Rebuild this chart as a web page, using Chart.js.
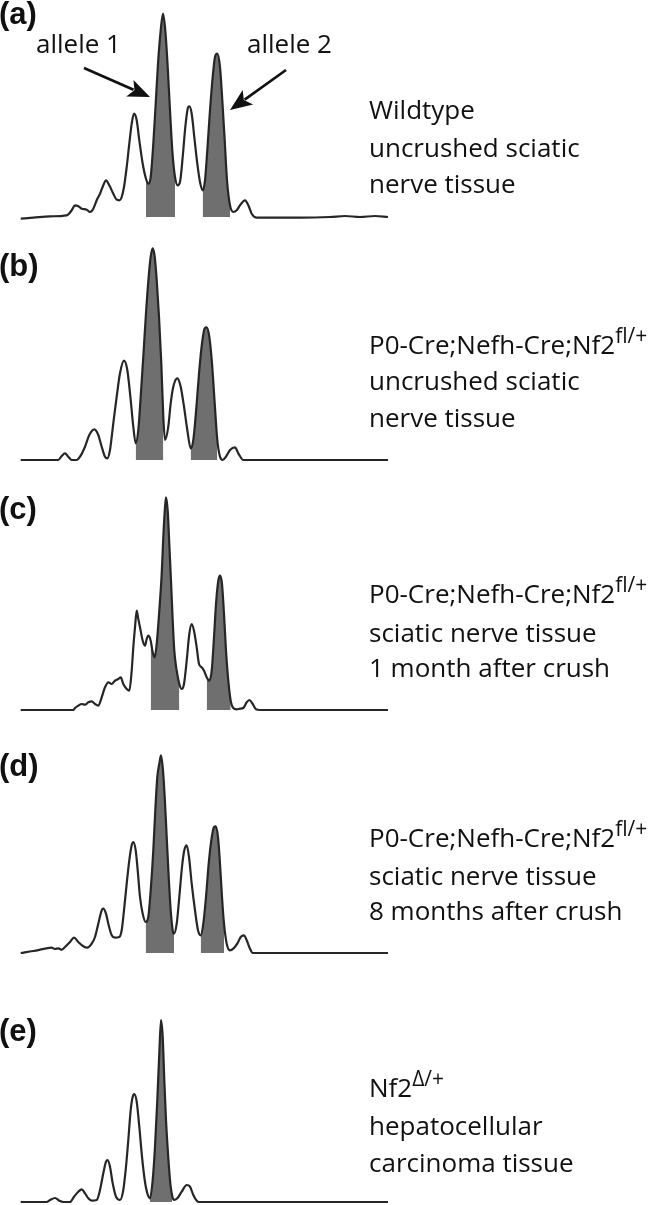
<!DOCTYPE html>
<html>
<head>
<meta charset="utf-8">
<script src="https://cdn.jsdelivr.net/npm/chart.js@4.4.1/dist/chart.umd.min.js"></script>
<style>
  html,body{margin:0;padding:0;background:#fff;}
  #fig{position:relative;width:661px;height:1205px;overflow:hidden;background:#fff;}
  canvas{position:absolute;left:0;}
  .lbl{position:absolute;left:-1px;font-family:"Liberation Sans",Arial,sans-serif;font-weight:bold;font-size:31px;line-height:34px;color:#111;white-space:nowrap;}
  .txt{position:absolute;left:369px;font-family:"Open Sans",sans-serif;font-size:26px;line-height:30px;color:#111;white-space:nowrap;}
  .al{position:absolute;font-family:"Open Sans",sans-serif;font-size:26px;line-height:30px;color:#111;white-space:nowrap;}
  .sup{font-size:21px;position:relative;top:-11px;}
  svg{position:absolute;left:0;top:0;}
</style>
</head>
<body>
<div id="fig"></div>
<script>
// ---------------- DATA (position along trace, signal height above baseline) ----------------
const posA = [20.7,33.3,50,66.7,71.7,75,78.3,81.7,86.7,90,93.3,96.7,100,103.3,106,109.3,113.3,116.7,119.3,121.7,124,126.7,129.3,131.7,134,136.7,139.3,142.7,146,148.3,150.7,153.3,155.7,158,160.7,163,165.3,167.7,170,172.3,175,177.7,180,182.7,185.3,187.7,189.3,191.7,194.3,197.3,200,202.7,205,207.3,210,212.7,215,217.3,220,222.3,224.7,227,230,233.3,236.7,240,245,248.3,251.7,256.7,300,330,345,360,375,388];
const sigA = [-1.7,-0.7,0.7,1.7,6.7,11.7,10.7,8.3,7.3,5,8.3,16.7,23.3,31.7,36.7,31.7,23.3,17.3,16.7,20,30,50,73.3,93.3,103.3,96.7,76.7,53.3,38.3,33.3,40,73.3,113.3,153.3,186.7,203.3,186.7,150,106.7,66.7,40,31.7,35,60,90,108.3,110.7,103.3,80,53.3,35,26.7,36.7,66.7,106.7,140,160,163.3,150,116.7,76.7,36.7,11.7,5,6.7,11.7,16.7,11.7,3.3,-0.7,-0.7,0,1,0,1,0];
const allele1WinA = [146, 175];
const allele2WinA = [202.7, 230.7];

const posB = [20.7,58.3,61.7,65,68.3,71.7,76.7,80,85,89.3,94.3,98.3,101.7,105,107.3,110,113.3,116.7,120,124,127.3,130.7,133.3,135.7,138.3,140.7,143.3,146,148.7,150.7,152.7,154.7,156.7,159,161.3,163.3,165,168.3,170.7,173.3,177.3,180.7,184,187.3,190.7,193.3,196.7,199.3,202,204.7,206.7,209.3,212,214.7,217.3,220,222.7,226,230,235,238.3,243.3,330,388];
const sigB = [0,0,4,6.7,3.3,0,0,3.3,13.3,25,30.7,25,13.3,3.3,1.7,10,36.7,63.3,86.7,99.3,90,60,33.3,16.7,30,63.3,103.3,146.7,183.3,203.3,211.7,203.3,180,143.3,96.7,43.3,20,33.3,56.7,73.3,81.7,73.3,53.3,30,11.7,20,56.7,90,116.7,131.7,132.7,123.3,96.7,56.7,20,3.3,0,3.3,10,12.7,6.7,0,0,0];
const allele1WinB = [135.7, 163.3];
const allele2WinB = [190.7, 218.3];

const posC = [20.7,73.3,75,78.3,81.7,85,88.3,91.7,95,98.3,101.7,105,108.3,111.7,115,118.3,120.7,123.3,126.7,129.3,131.7,133.3,135,136.7,138.3,140,142.7,145,146.7,148.3,150.7,152.7,154.7,156.7,159.3,161.7,163.3,165,166,167.7,169.3,171,172.7,174.3,176.7,179.3,181.7,184,186.7,189.3,191.7,194,196.7,199,201.7,204,206.7,209.3,211.7,214,216,218.3,220,222,224,226,228.3,230.7,233.3,236.7,240,243.3,246.7,249.3,252.7,256,260,388];
const sigC = [0,0,2,4.3,6,5.3,7.7,8.7,6,4.3,12.7,22.7,27.7,26,29.3,31,32.7,26,21,19.3,39.3,62.7,82.7,99.3,91,82.7,69.3,64.3,71,74.3,69.3,57.7,52.7,66,99.3,136,172.7,202.7,212.7,199.3,166,129.3,89.3,59.3,39.3,26,21,26,49.3,76,86,79.3,62.7,46,42.7,39.3,32.7,29.3,39.3,72.7,106,129.3,134.3,126,96,59.3,29.3,9.3,2,0.7,1.3,2,7.7,10,6,0.7,0,0];
const allele1WinC = [150.7, 179.3];
const allele2WinC = [206.7, 231.7];

const posD = [20.7,33.3,40,46.7,51.7,55,58.3,61.7,65,70,74,78.3,83.3,87.3,91.7,95,98.3,101.7,103.3,106,108.3,111.7,115,119.3,121.7,124,126.7,129.3,131.7,133.3,135.7,137.7,140,142.7,145.7,148.3,150.7,153.3,155.3,157.3,159.3,161,162.7,164.7,166.7,168.7,170.7,172.7,174,176.7,179.3,182,184.3,186.7,189,191.7,195,198,200.7,203.3,206,208.7,211.3,214,215.7,218,220,222,224,226.7,230,233.3,237.3,240.7,244,246.7,250,252.7,388];
const sigD = [0,2,3.3,4.7,5.3,4,4.7,3.3,6,11,15.3,11,6.7,5.3,9.3,16,29.3,42.7,44.3,39.3,29.3,17.7,15.3,16,22.7,42.7,69.3,92.7,107.7,111,102.7,82.7,56,39.3,31,36,62.7,102.7,142.7,176,189.3,197.7,186,156,116,76,42.7,22.7,19.3,29.3,56,86,102.7,107.7,96,69.3,42.7,22.7,17.7,29.3,56,89.3,112.7,126,126.7,116,89.3,56,29.3,9.3,2.7,4.3,9.3,16,17.7,12.7,4.3,0,0];
const allele1WinD = [145.7, 174];
const allele2WinD = [200.7, 225.3];

const posE = [20.7,46.7,50,55,59.3,63.3,70,74,78.3,81.7,85,88.3,91.7,96.7,100,103.3,106,107.7,110,112.7,116,120,123.3,126,128.3,130.7,132.7,134.3,136.7,139.3,142,144.7,147.3,150,152.7,155,157.3,159.3,161,162.7,164.3,166,168,170,172,174,177.3,181.7,186.7,190,193.3,196.7,199.3,388];
const sigE = [0,0,2,4,1.3,0,0,5.3,10.3,12.7,8.7,3.7,1.3,2,12,28.7,40.3,42,35.3,18.7,5.3,2,12,35.3,62,92,105.3,108,100.3,75.3,45.3,22,8.7,3.7,22,55.3,102,148.7,182,165.3,122,82,48.7,22,7,2,3.7,10.3,17,15.3,7,1.3,0,0];
const allele1WinE = [150, 172];

// baseline (pixel row) of each trace panel
const baselines = [217, 460, 710, 953, 1202];

const panelLetters = ['(a)','(b)','(c)','(d)','(e)'];
const letterBaselines = [23.5, 275.5, 518.5, 775.5, 1040.5];

const descA = ['Wildtype','uncrushed sciatic','nerve tissue'];
const descB = ['P0-Cre;Nefh-Cre;Nf2|fl/+','uncrushed sciatic','nerve tissue'];
const descC = ['P0-Cre;Nefh-Cre;Nf2|fl/+','sciatic nerve tissue','1 month after crush'];
const descD = ['P0-Cre;Nefh-Cre;Nf2|fl/+','sciatic nerve tissue','8 months after crush'];
const descE = ['Nf2|\u0394/+','hepatocellular','carcinoma tissue'];
const descBaselines = [[119,157,193],[354,390,427],[603,642,677],[847,885,920],[1097,1135,1172]];

const alleleLabels = ['allele 1','allele 2'];

// ---------------- BUILD ----------------
const fig = document.getElementById('fig');
const panels = [
  {pos: posA, sig: sigA, wins: [allele1WinA, allele2WinA], desc: descA},
  {pos: posB, sig: sigB, wins: [allele1WinB, allele2WinB], desc: descB},
  {pos: posC, sig: sigC, wins: [allele1WinC, allele2WinC], desc: descC},
  {pos: posD, sig: sigD, wins: [allele1WinD, allele2WinD], desc: descD},
  {pos: posE, sig: sigE, wins: [allele1WinE], desc: descE}
];

const TOP_V = 230, BOT_V = -10;

panels.forEach((p, i) => {
  const cv = document.createElement('canvas');
  cv.width = 661; cv.height = TOP_V - BOT_V;
  cv.style.top = (baselines[i] - TOP_V) + 'px';
  fig.appendChild(cv);
  const pts = p.pos.map((x, k) => ({x: x, y: p.sig[k]}));
  const datasets = [{
    data: pts, borderColor: '#262626', borderWidth: 2.2, pointRadius: 0,
    cubicInterpolationMode: 'monotone', fill: false, order: 0
  }];
  p.wins.forEach(w => {
    datasets.push({
      data: pts.filter(q => q.x >= w[0] && q.x <= w[1]),
      borderColor: 'rgba(0,0,0,0)', borderWidth: 0, backgroundColor: '#6f6f6f',
      pointRadius: 0, cubicInterpolationMode: 'monotone', fill: 'origin', order: 1
    });
  });
  new Chart(cv, {
    type: 'line',
    data: {datasets: datasets},
    options: {
      responsive: false, animation: false, events: [], devicePixelRatio: 1,
      layout: {padding: 0},
      plugins: {legend: {display: false}, tooltip: {enabled: false}},
      scales: {
        x: {type: 'linear', min: 0, max: 661, display: false},
        y: {type: 'linear', min: BOT_V, max: TOP_V, display: false}
      }
    }
  });
});

// text helpers: place an element so its text baseline sits at y
function placeAtBaseline(el, y) {
  const mark = document.createElement('span');
  mark.style.cssText = 'display:inline-block;width:0;height:0;vertical-align:baseline;';
  el.appendChild(mark);
  el.style.top = '0px';
  const off = mark.getBoundingClientRect().top - el.getBoundingClientRect().top;
  el.style.top = (y - off) + 'px';
}
function addText(cls, content, x, y) {
  const d = document.createElement('div');
  d.className = cls;
  const parts = content.split('|');
  d.appendChild(document.createTextNode(parts[0]));
  if (parts.length > 1) {
    const s = document.createElement('span');
    s.className = 'sup';
    s.textContent = parts[1];
    d.appendChild(s);
  }
  if (x !== null) d.style.left = x + 'px';
  fig.appendChild(d);
  placeAtBaseline(d, y);
}

panelLetters.forEach((t, i) => addText('lbl', t, null, letterBaselines[i]));
panels.forEach((p, i) => p.desc.forEach((line, k) => addText('txt', line, null, descBaselines[i][k])));
addText('al', alleleLabels[0], 36, 53);
addText('al', alleleLabels[1], 247, 53);

// arrows (panel a)
const svgNS = 'http://www.w3.org/2000/svg';
const svg = document.createElementNS(svgNS, 'svg');
svg.setAttribute('width', 661); svg.setAttribute('height', 260);
function arrow(x1, y1, x2, y2) {
  const dx = x2 - x1, dy = y2 - y1, L = Math.hypot(dx, dy);
  const ux = dx / L, uy = dy / L, hl = 22, hw = 9;
  const bx = x2 - hl * ux, by = y2 - hl * uy;
  const ln = document.createElementNS(svgNS, 'line');
  ln.setAttribute('x1', x1); ln.setAttribute('y1', y1);
  ln.setAttribute('x2', bx + ux * 4); ln.setAttribute('y2', by + uy * 4);
  ln.setAttribute('stroke', '#111'); ln.setAttribute('stroke-width', 2.7);
  svg.appendChild(ln);
  const pg = document.createElementNS(svgNS, 'polygon');
  pg.setAttribute('points', `${x2},${y2} ${bx - uy * hw},${by + ux * hw} ${bx + ux * 5},${by + uy * 5} ${bx + uy * hw},${by - ux * hw}`);
  pg.setAttribute('fill', '#111');
  svg.appendChild(pg);
}
arrow(84, 68, 150, 97);
arrow(286, 70, 230, 110);
fig.appendChild(svg);
</script>
</body>
</html>
